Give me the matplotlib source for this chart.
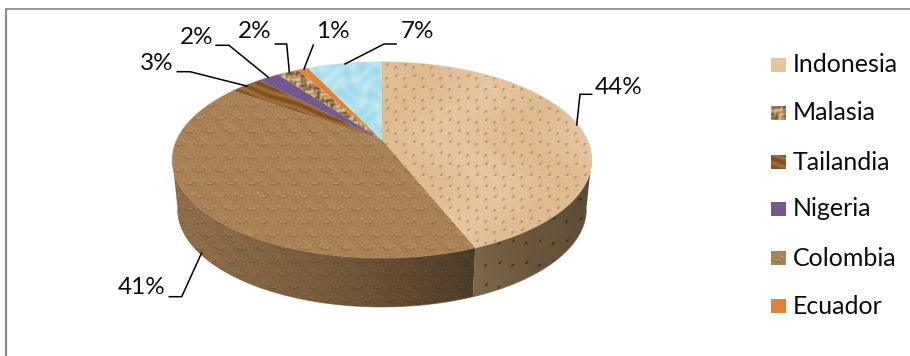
import matplotlib
matplotlib.use('Agg')
import matplotlib.pyplot as plt
import numpy as np
from matplotlib.patches import Polygon, Rectangle

# slices, clockwise from 12 o'clock
slice_names = ['Indonesia', 'Colombia', 'Tailandia', 'Nigeria', 'Malasia', 'Ecuador', None]
slice_values = [44, 41, 3, 2, 2, 1, 7]

legend_names = ['Indonesia', 'Malasia', 'Tailandia', 'Nigeria', 'Colombia', 'Ecuador']

W, H = 910, 356
yy, xx = np.mgrid[0:H, 0:W] + 0.5


def hex_rgb(c):
    return np.array(matplotlib.colors.to_rgb(c))


def mix(a, b, t):
    t = np.clip(t, 0, 1)[..., None]
    return hex_rgb(a) * (1 - t) + hex_rgb(b) * t


def dotted(dx=18.0, dy=11.0, ink='#9A7850', strength=0.7):
    # staggered leather dimples
    row = np.floor(yy / dy)
    u = (xx - (row % 2) * dx / 2 + dx / 2) % dx - dx / 2
    v = (yy + dy / 2) % dy - dy / 2
    dark = np.exp(-((u + 0.35 * v) / 1.3) ** 2 - (v / 2.9) ** 2)
    u2 = (xx - ((row + 1) % 2) * dx / 2 + dx / 2) % dx - dx / 2
    light = np.exp(-(u2 / 3.0) ** 2 - (v / 1.0) ** 2)
    soft = 0.5 + 0.5 * np.sin(xx / 23 + np.sin(yy / 17))
    img = mix('#DFBB92', '#E6C5A0', soft)
    img = img * (1 - 0.35 * light[..., None]) + hex_rgb('#F0D5B2') * 0.35 * light[..., None]
    return img * (1 - strength * dark[..., None]) + hex_rgb(ink) * strength * dark[..., None]


def scallop():
    # embossed paper, rows of shallow arcs
    dx, dy = 21.0, 13.0
    row = np.floor(yy / dy)
    u = (xx - (row % 2) * dx / 2 + dx / 2) % dx - dx / 2
    v = (yy + dy / 2) % dy - dy / 2
    r = np.hypot(u, (v + 3) * 1.3)
    up = np.exp(-((r - 5.5) / 1.2) ** 2) * (v > -3)
    down = np.exp(-((np.hypot(u, (v + 1.5) * 1.3) - 5.5) / 1.2) ** 2) * (v > -1.5)
    grain = np.sin(xx * 0.9 + 2 * np.sin(yy * 0.7)) * np.sin(yy * 1.1 + 2 * np.sin(xx * 0.6))
    img = hex_rgb('#A98257') * np.ones((H, W, 1))
    img = img + (0.055 * up - 0.065 * down + 0.022 * grain)[..., None]
    return np.clip(img, 0, 1)


def bubbles():
    v = np.sin(xx / 4.3 + 1.4 * np.sin(yy / 6.1)) * np.sin(yy / 3.7 + 1.2 * np.sin(xx / 5.3))
    return mix('#9AD6E8', '#C2E9F2', 0.6 + 0.45 * v)


def granite():
    along = yy - 0.95 * xx
    across = yy + 0.95 * xx
    v = np.sin(along * 0.31 + 1.9 * np.sin(across * 0.23)) + 0.7 * np.sin(across * 0.77 + 1.7 * np.sin(along * 0.53))
    return mix('#7A5630', '#DABD92', 0.52 + 0.33 * v)


def wood():
    v = np.sin((yy - 0.36 * xx) * 0.75 + 0.7 * np.sin(xx / 9))
    return mix('#80501F', '#AA7A45', 0.3 + 0.45 * v)


def flat(c):
    return hex_rgb(c) * np.ones((H, W, 1))


top_images = {
    'Indonesia': dotted(), 'Colombia': scallop(), 'Tailandia': wood(),
    'Nigeria': flat('#73588E'), 'Malasia': granite(), 'Ecuador': flat('#DD843A'),
    None: bubbles(),
}
swatch_images = dict(top_images)
swatch_images['Indonesia'] = flat('#E6C49C')


def wall_image(name):
    if name == 'Indonesia':
        t = np.clip((xx - 472) / 118, 0, 1)
        tint = np.array([1.0, 0.97, 0.86])
        return dotted(27.0, 22.0, '#35281A', 0.65) * (0.54 - 0.13 * t)[..., None] * tint
    t = np.clip((xx - 175) / 295, 0, 1)
    return top_images[name] * (0.84 - 0.38 * t ** 1.4)[..., None]


# perspective disc, the centre sits above the middle of the ellipse
cx, cy = 382.0, 140.0
A, B, k = 205.2, 93.9, 0.204
depth = 49.0


def rim(theta):
    u, v = np.sin(theta), np.cos(theta)
    return cx + A * u / (1 + k * v), cy - B * v / (1 + k * v)


fig = plt.figure(figsize=(W / 100, H / 100), dpi=100)
ax = fig.add_axes([0, 0, 1, 1])
ax.axis('off')


def paint(img, xy=None, patch=None):
    if patch is None:
        patch = Polygon(xy, closed=True, transform=ax.transData, fc='none', ec='none')
    ax.add_patch(patch)
    im = ax.imshow(img, extent=(0, W, H, 0), interpolation='bilinear', aspect='auto', zorder=2)
    im.set_clip_path(patch)


# chart frame: top and left edges only
ax.plot([5.5, 5.5], [9, H], color='#8C8C8C', lw=1.6, solid_capstyle='butt', zorder=1)
ax.plot([5, W], [9.3, 9.3], color='#8C8C8C', lw=1.3, solid_capstyle='butt', zorder=1)

edges = np.cumsum([0] + slice_values) / sum(slice_values) * 2 * np.pi

# side walls first, only the two front slices reach the viewer
for name, a0, a1 in zip(slice_names, edges[:-1], edges[1:]):
    if name not in ('Indonesia', 'Colombia'):
        continue
    t = np.linspace(a0, a1, 300)
    x, y = rim(t)
    # start the wall at the silhouette so its side runs straight down
    if name == 'Indonesia':
        keep = t >= t[np.argmax(x)]
    else:
        keep = t <= t[np.argmin(x)]
    x, y = x[keep], y[keep]
    xb = cx + (x - cx) * 0.975
    outline = np.r_[np.c_[x, y], np.c_[xb, y + depth][::-1]]
    paint(wall_image(name), outline)
    ax.plot(xb, y + depth, color='#6B5538', lw=0.7, alpha=0.6, zorder=3)

# top faces
for name, a0, a1 in zip(slice_names, edges[:-1], edges[1:]):
    t = np.linspace(a0, a1, 200)
    x, y = rim(t)
    outline = np.r_[[[cx, cy]], np.c_[x, y]]
    paint(top_images[name], outline)
    ax.plot(x, y, color=top_images[name].mean(axis=(0, 1)), lw=0.8, alpha=0.7, zorder=3)

# data labels and their leaders
label_pos = [(619, 87), (142, 288), (157, 64), (197, 37), (255, 31), (333, 31), (417, 31)]
leaders = [
    [(591.7, 94.3), (580, 94.3), (576.7, 125)],
    [(169.3, 296.7), (181.7, 296.7), (201.7, 252.7)],
    [(177.3, 71.7), (190, 71.7), (246.7, 86)],
    [(216, 45.3), (229, 45.3), (268.3, 77.3)],
    [(275.3, 44), (286.7, 44), (289.3, 72)],
    [(313.3, 45), (304, 69)],
    [(396, 44), (384, 44), (345, 64)],
]
label_font = dict(family='Lato', fontsize=17.5, color='#0D0D0D', ha='center', va='center', zorder=5)
for val, pos, line in zip(slice_values, label_pos, leaders):
    ax.text(pos[0], pos[1], f'{val}%', **label_font)
    lx, ly = zip(*line)
    ax.plot(lx, ly, color='black', lw=1.1, zorder=4, solid_joinstyle='miter')

# legend
legend_y = [65, 113, 162, 209, 258, 306]
for name, ly in zip(legend_names, legend_y):
    paint(swatch_images[name], patch=Rectangle((771, ly - 7.5), 15, 15, fc='none', ec='none'))
    ax.text(793, ly, name, family='Lato', fontsize=18, color='#0D0D0D', ha='left', va='center', zorder=5)

ax.set_xlim(0, W)
ax.set_ylim(H, 0)
fig.savefig('out.png', dpi=100, facecolor='white')
